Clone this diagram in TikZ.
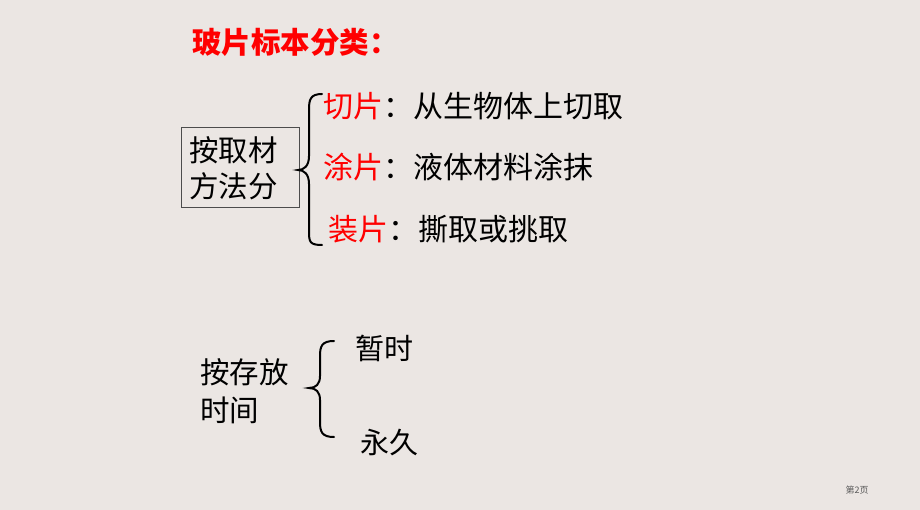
\documentclass[tikz,border=0pt]{standalone}
\usepackage{fontspec}
\setmainfont{Noto Sans CJK SC}
\definecolor{bg}{HTML}{EBE6E3}
\definecolor{pred}{HTML}{FF0000}
\begin{document}
\begin{tikzpicture}[x=1pt,y=-1pt,
  txt/.style={inner sep=0pt,anchor=west,font=\fontsize{30}{34}\selectfont},
  redtxt/.style={txt,text=pred},
  bracestyle/.style={line width=2pt,black,line cap=round}]
\fill[bg] (0,0) rectangle (920,510);
\useasboundingbox (0,0) rectangle (920,510);
\node[redtxt,font=\fontsize{29.5}{33}\selectfont\bfseries] (title) at (192,42) {玻片标本分类：};
\node[draw=black!70,line width=1pt,minimum width=118pt,minimum height=80pt,inner sep=0pt] (box) at (240,168) {};
\node[txt,align=left,font=\fontsize{29.5}{36}\selectfont] (boxt) at (189,168) {按取材\\方法分};
\draw[bracestyle] (322,94) .. controls (310,94) and (309,100) .. (309,110) -- (309,156) .. controls (309,166) and (304,170) .. (298,170) .. controls (304,170) and (309,174) .. (309,184) -- (309,232) .. controls (309,242) and (310,245) .. (322,245);
\node[redtxt] (q1) at (323,106) {切片};
\node[txt] (a1) at (383,106) {：从生物体上切取};
\node[redtxt] (q2) at (323,167) {涂片};
\node[txt] (a2) at (383,167) {：液体材料涂抹};
\node[redtxt] (q3) at (328,229) {装片};
\node[txt] (a3) at (388,229) {：撕取或挑取};
\node[txt,align=left,font=\fontsize{29.5}{38}\selectfont] (t2) at (200,391) {按存放\\时间};
\draw[bracestyle] (334,341) .. controls (322,341) and (320,346) .. (320,356) -- (320,376) .. controls (320,384) and (316,388) .. (309,388) .. controls (316,388) and (320,392) .. (320,400) -- (320,422) .. controls (320,432) and (322,437) .. (334,437);
\node[txt,font=\fontsize{29}{34}\selectfont] (b1) at (355,348) {暂时};
\node[txt,font=\fontsize{29}{34}\selectfont] (b2) at (360,443) {永久};
\node[inner sep=0pt,text=black!65,font=\fontsize{9}{10}\selectfont] (pg) at (857,490) {第2页};
\end{tikzpicture}
\end{document}
